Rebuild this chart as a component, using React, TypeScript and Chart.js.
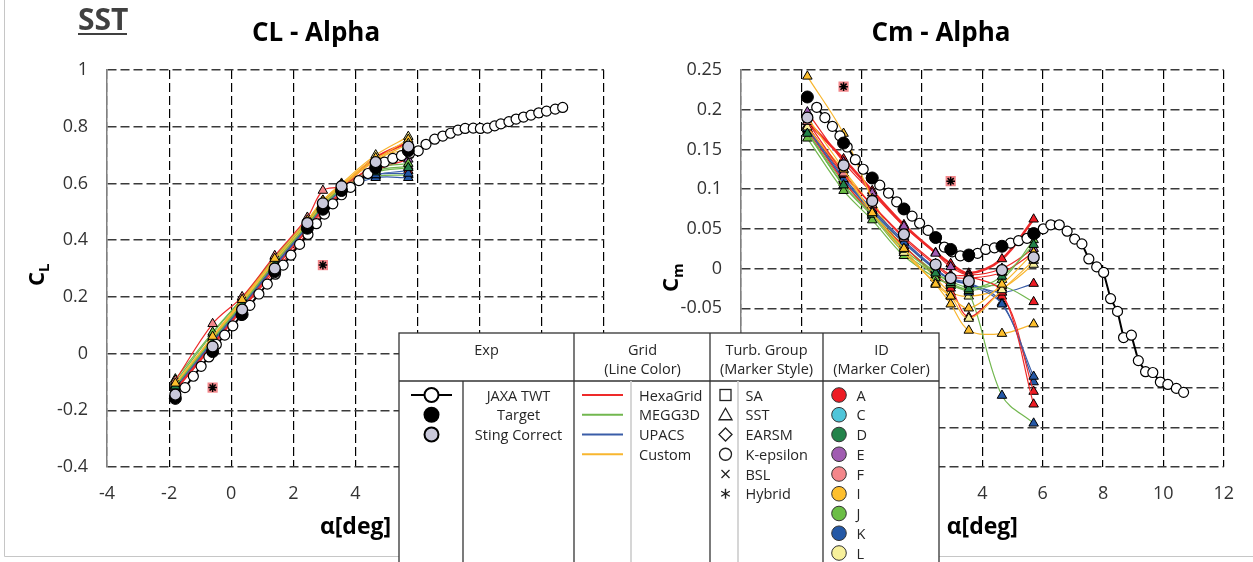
import React, { useEffect, useRef } from 'react';
import { Chart, registerables } from 'chart.js';

Chart.register(...registerables);

const FONT = '"Open Sans", "DejaVu Sans", sans-serif';

// ---------- axes ----------
const X_MIN = -4, X_MAX = 12, X_STEP = 2;
const CL_MIN = -0.4, CL_MAX = 1, CL_STEP = 0.2;
const CM_MIN = -0.25, CM_MAX = 0.25, CM_STEP = 0.05;

// ---------- experiment (JAXA TWT) ----------
const JAXA_ALPHA = [-1.49, -1.22, -0.97, -0.72, -0.48, -0.21, 0.05, 0.32, 0.6, 0.89, 1.16, 1.42, 1.67, 1.92, 2.2, 2.47, 2.74, 3.0, 3.27, 3.55, 3.84, 4.11, 4.4, 4.66, 4.93, 5.2, 5.48, 5.75, 6.02, 6.27, 6.55, 6.81, 7.06, 7.3, 7.53, 7.79, 8.02, 8.25, 8.48, 8.68, 8.94, 9.17, 9.41, 9.65, 9.9, 10.15, 10.43, 10.67];
const JAXA_CL = [-0.12, -0.08, -0.045, -0.012, 0.032, 0.065, 0.098, 0.135, 0.17, 0.21, 0.245, 0.28, 0.312, 0.347, 0.385, 0.42, 0.458, 0.492, 0.528, 0.56, 0.586, 0.61, 0.635, 0.655, 0.675, 0.688, 0.698, 0.707, 0.715, 0.738, 0.756, 0.767, 0.777, 0.788, 0.794, 0.795, 0.794, 0.795, 0.803, 0.81, 0.818, 0.827, 0.834, 0.841, 0.849, 0.855, 0.862, 0.868];
const JAXA_CM = [0.203, 0.19, 0.179, 0.167, 0.153, 0.137, 0.125, 0.114, 0.105, 0.095, 0.084, 0.075, 0.066, 0.057, 0.048, 0.039, 0.027, 0.021, 0.016, 0.015, 0.019, 0.024, 0.026, 0.028, 0.032, 0.035, 0.038, 0.044, 0.05, 0.055, 0.055, 0.047, 0.037, 0.031, 0.012, 0.002, -0.005, -0.038, -0.054, -0.087, -0.084, -0.116, -0.13, -0.131, -0.143, -0.146, -0.151, -0.156];

// ---------- CFD angles, target and sting-corrected ----------
const CFD_ALPHA = [-1.8, -0.6, 0.35, 1.4, 2.45, 2.95, 3.55, 4.65, 5.7];
const TARGET_CL = [-0.158, 0.007, 0.138, 0.289, 0.442, 0.509, 0.575, 0.655, 0.715];
const TARGET_CM = [0.216, 0.158, 0.114, 0.075, 0.039, 0.024, 0.017, 0.028, 0.044];
const STING_CL = [-0.145, 0.025, 0.155, 0.3, 0.46, 0.53, 0.59, 0.675, 0.73];
const STING_CM = [0.19, 0.13, 0.085, 0.043, 0.005, -0.012, -0.016, -0.002, 0.014];

// ---------- CFD SST results ----------
const CFD_ID = ['A', 'E', 'L', 'I', 'K', 'K', 'A', 'A', 'A', 'K', 'J', 'A', 'L', 'F', 'D', 'I'];
const CFD_GRID = ['HexaGrid', 'HexaGrid', 'Custom', 'Custom', 'MEGG3D', 'UPACS', 'UPACS', 'MEGG3D', 'HexaGrid', 'UPACS', 'MEGG3D', 'HexaGrid', 'Custom', 'HexaGrid', 'MEGG3D', 'Custom'];
const CFD_CL = [
  [-0.125, 0.035, 0.165, 0.31, 0.45, 0.52, 0.585, 0.69, 0.745],
  [-0.13, 0.025, 0.155, 0.29, 0.425, 0.495, 0.565, 0.645, 0.685],
  [-0.115, 0.06, 0.19, 0.335, 0.47, 0.54, 0.6, 0.7, 0.765],
  [-0.11, 0.055, 0.185, 0.33, 0.465, 0.535, 0.595, 0.685, 0.755],
  [-0.1, 0.07, 0.195, 0.335, 0.465, 0.53, 0.585, 0.625, 0.63],
  [-0.115, 0.045, 0.17, 0.31, 0.45, 0.515, 0.575, 0.62, 0.62],
  [-0.12, 0.04, 0.17, 0.31, 0.45, 0.515, 0.58, 0.63, 0.645],
  [-0.115, 0.05, 0.175, 0.32, 0.455, 0.525, 0.585, 0.645, 0.66],
  [-0.125, 0.035, 0.16, 0.3, 0.435, 0.505, 0.565, 0.66, 0.71],
  [-0.12, 0.04, 0.165, 0.305, 0.445, 0.51, 0.575, 0.63, 0.635],
  [-0.09, 0.075, 0.195, 0.34, 0.47, 0.535, 0.59, 0.655, 0.67],
  [-0.13, 0.03, 0.16, 0.3, 0.44, 0.51, 0.57, 0.67, 0.7],
  [-0.11, 0.055, 0.18, 0.325, 0.46, 0.53, 0.59, 0.68, 0.74],
  [-0.095, 0.105, 0.2, 0.345, 0.48, 0.575, 0.59, 0.665, 0.7],
  [-0.115, 0.05, 0.175, 0.32, 0.455, 0.52, 0.58, 0.64, 0.655],
  [-0.105, 0.06, 0.19, 0.335, 0.47, 0.54, 0.595, 0.69, 0.72],
];
const CFD_CM = [
  [0.185, 0.138, 0.098, 0.055, 0.02, 0.006, -0.006, 0.012, 0.062],
  [0.197, 0.134, 0.095, 0.053, 0.019, 0.002, -0.008, 0.0, 0.025],
  [0.176, 0.124, 0.078, 0.03, -0.012, -0.03, -0.035, -0.025, 0.005],
  [0.242, 0.17, 0.088, 0.022, -0.02, -0.045, -0.078, -0.082, -0.07],
  [0.172, 0.104, 0.066, 0.02, -0.008, -0.022, -0.03, -0.16, -0.195],
  [0.18, 0.115, 0.075, 0.035, 0.0, -0.013, -0.018, -0.043, -0.143],
  [0.178, 0.112, 0.072, 0.032, -0.002, -0.014, -0.02, -0.03, -0.019],
  [0.172, 0.108, 0.07, 0.028, -0.005, -0.016, -0.024, -0.022, -0.042],
  [0.175, 0.11, 0.068, 0.028, -0.008, -0.025, -0.061, -0.035, -0.155],
  [0.176, 0.113, 0.073, 0.033, -0.001, -0.014, -0.02, -0.045, -0.136],
  [0.164, 0.098, 0.061, 0.016, -0.012, -0.02, -0.028, -0.014, 0.036],
  [0.18, 0.118, 0.08, 0.04, 0.006, -0.008, -0.01, -0.03, -0.171],
  [0.178, 0.12, 0.07, 0.02, -0.018, -0.035, -0.063, -0.027, 0.01],
  [0.185, 0.12, 0.08, 0.038, 0.004, -0.01, -0.012, -0.005, 0.02],
  [0.17, 0.105, 0.068, 0.024, -0.006, -0.018, -0.026, -0.01, 0.03],
  [0.19, 0.125, 0.07, 0.025, -0.02, -0.035, -0.05, -0.02, 0.02],
];

// ---------- BSL / Hybrid (F) ----------
const BSL_ALPHA = [-0.6, 2.95];
const BSL_CL = [-0.12, 0.312];
const BSL_CM = [0.229, 0.11];

// ---------- legend labels ----------
const EXP_LABELS = ['JAXA TWT', 'Target', 'Sting Correct'];
const GRID_LABELS = ['HexaGrid', 'MEGG3D', 'UPACS', 'Custom'];
const TURB_LABELS = ['SA', 'SST', 'EARSM', 'K-epsilon', 'BSL', 'Hybrid'];
const ID_LABELS = ['A', 'C', 'D', 'E', 'F', 'I', 'J', 'K', 'L'];

const ID_COLORS: Record<string, string> = {
  A: '#ED1C24', C: '#4FC5D9', D: '#23834A', E: '#A05CB1', F: '#F3868A',
  I: '#FDBF2D', J: '#6BBE45', K: '#2458A6', L: '#F7F09B',
};
const GRID_COLORS: Record<string, string> = {
  HexaGrid: '#EE2A2A', MEGG3D: '#72B74F', UPACS: '#3A5DA8', Custom: '#F8B62F',
};

const fmt = (v: any) => String(parseFloat(Number(v).toFixed(2)));

const yTitlePlugin = {
  id: 'ytitle',
  afterDraw(chart: any, _args: any, opts: any) {
    const ctx = chart.ctx;
    ctx.save();
    ctx.translate(opts.x, opts.y);
    ctx.rotate(-Math.PI / 2);
    ctx.fillStyle = '#000';
    ctx.textBaseline = 'alphabetic';
    ctx.textAlign = 'left';
    ctx.font = `bold 22px ${FONT}`;
    ctx.fillText(opts.main, 0, 0);
    const w = ctx.measureText(opts.main).width;
    ctx.font = `bold 15px ${FONT}`;
    ctx.fillText(opts.sub, w, 5);
    ctx.restore();
  },
};

function buildConfig(kind: 'cl' | 'cm'): any {
  const isCL = kind === 'cl';
  const pts = (xs: number[], ys: number[]) => xs.map((x, i) => ({ x, y: ys[i] }));
  const layers: any[] = [];
  CFD_ID.forEach((id, i) => {
    layers.push({
      data: pts(CFD_ALPHA, isCL ? CFD_CL[i] : CFD_CM[i]),
      borderColor: GRID_COLORS[CFD_GRID[i]],
      borderWidth: i === 0 ? 2.6 : 1.2,
      tension: 0.35,
      pointStyle: 'triangle',
      pointRadius: 5.5,
      pointBackgroundColor: ID_COLORS[id],
      pointBorderColor: '#000',
      pointBorderWidth: 1,
    });
  });
  layers.push({
    data: pts(JAXA_ALPHA, isCL ? JAXA_CL : JAXA_CM),
    borderColor: '#000',
    borderWidth: 2,
    tension: 0,
    pointStyle: 'circle',
    pointRadius: 5,
    pointBackgroundColor: '#fff',
    pointBorderColor: '#000',
    pointBorderWidth: 1.2,
  });
  layers.push({
    data: pts(CFD_ALPHA, isCL ? TARGET_CL : TARGET_CM),
    showLine: false,
    pointStyle: 'circle',
    pointRadius: 6,
    pointBackgroundColor: '#000',
    pointBorderColor: '#000',
    pointBorderWidth: 1,
  });
  layers.push({
    data: pts(CFD_ALPHA, isCL ? STING_CL : STING_CM),
    showLine: false,
    pointStyle: 'circle',
    pointRadius: 5.5,
    pointBackgroundColor: '#C9C8DA',
    pointBorderColor: '#000',
    pointBorderWidth: 1.3,
  });
  layers.push({
    data: pts(BSL_ALPHA, isCL ? BSL_CL : BSL_CM),
    showLine: false,
    pointStyle: 'rect',
    pointRadius: 7.2,
    pointBackgroundColor: ID_COLORS.F,
    pointBorderColor: ID_COLORS.F,
    pointBorderWidth: 0,
  });
  layers.push({
    data: pts(BSL_ALPHA, isCL ? BSL_CL : BSL_CM),
    showLine: false,
    pointStyle: 'star',
    pointRadius: 4.3,
    pointBackgroundColor: '#000',
    pointBorderColor: '#000',
    pointBorderWidth: 1.5,
  });
  // Chart.js draws dataset 0 on top, so reverse the bottom->top list
  const datasets = layers.reverse();

  const padL = isCL ? 28 : 21;
  const padR = isCL ? 28 : 21;
  const yWidth = isCL ? 79 : 88;
  const tickFont = { family: FONT, size: 18 };

  return {
    type: 'line',
    data: { datasets },
    plugins: [yTitlePlugin],
    options: {
      responsive: false,
      animation: false,
      events: [],
      layout: { padding: { left: padL, right: padR, top: 0, bottom: 0 } },
      plugins: {
        legend: { display: false },
        tooltip: { enabled: false },
        title: {
          display: true,
          text: isCL ? 'CL - Alpha' : 'Cm - Alpha',
          color: '#000',
          font: { family: FONT, size: 26, weight: 'bold' },
          padding: { top: 17.5, bottom: 70 - 17.5 - 31.2 },
        },
        ytitle: isCL ? { x: 44, y: 286, main: 'C', sub: 'L' } : { x: 46, y: 292, main: 'C', sub: 'm' },
      },
      scales: {
        x: {
          type: 'linear',
          min: X_MIN,
          max: X_MAX,
          ticks: { stepSize: X_STEP, font: tickFont, color: '#333', padding: 16, callback: fmt },
          grid: { color: '#000', lineWidth: 1.2, drawTicks: false },
          border: { display: false, dash: [9, 4] },
          title: {
            display: true,
            text: 'α[deg]',
            color: '#000',
            font: { family: FONT, size: 23, weight: 'bold' },
            padding: { top: 0, bottom: 21.2 },
          },
          afterFit: (s: any) => { s.height = 95; },
        },
        y: {
          type: 'linear',
          min: isCL ? CL_MIN : CM_MIN,
          max: isCL ? CL_MAX : CM_MAX,
          ticks: { stepSize: isCL ? CL_STEP : CM_STEP, font: tickFont, color: '#333', padding: 19, callback: fmt },
          grid: { color: '#3a3a3a', lineWidth: 1.4, drawTicks: false },
          border: { display: true, color: '#808080', width: 1.5, dash: [9, 4] },
          afterFit: (s: any) => { s.width = yWidth; },
        },
      },
    },
  };
}

const ROW0 = 395;
const ROW_STEP = 19.75;

function Legend() {
  const txt = { fontFamily: FONT, fontSize: 14.5, fill: '#262626' } as any;
  const rowY = (i: number) => ROW0 + i * ROW_STEP;
  const sx = 725.5;
  return (
    <svg width={1253} height={562} style={{ position: 'absolute', left: 0, top: 0 }}>
      {/* outer frame */}
      <line x1={4.5} y1={0} x2={4.5} y2={556.5} stroke="#c6c6c6" strokeWidth={1} />
      <line x1={4.5} y1={556.5} x2={1253} y2={556.5} stroke="#c6c6c6" strokeWidth={1} />
      {/* SST */}
      <text x={78} y={30} style={{ fontFamily: FONT, fontSize: 30, fontWeight: 700, fill: '#404040' } as any}>SST</text>
      <line x1={78} y1={34} x2={127} y2={34} stroke="#404040" strokeWidth={2.2} />
      {/* table */}
      <rect x={399} y={333} width={540} height={260} fill="#fff" stroke="#333" strokeWidth={1.3} />
      <line x1={399} y1={381} x2={939} y2={381} stroke="#333" strokeWidth={1.3} />
      {[574, 710, 823].map((x) => (
        <line key={x} x1={x} y1={333} x2={x} y2={562} stroke="#333" strokeWidth={1.3} />
      ))}
      <line x1={463} y1={381} x2={463} y2={562} stroke="#333" strokeWidth={1.3} />
      {[631, 738].map((x) => (
        <line key={x} x1={x} y1={381} x2={x} y2={562} stroke="#d2d2d2" strokeWidth={1.8} />
      ))}
      {/* headers */}
      <text x={486.5} y={349} textAnchor="middle" dominantBaseline="central" style={txt}>Exp</text>
      <text x={642.5} y={349} textAnchor="middle" dominantBaseline="central" style={txt}>Grid</text>
      <text x={642.5} y={368} textAnchor="middle" dominantBaseline="central" style={txt}>(Line Color)</text>
      <text x={766.5} y={349} textAnchor="middle" dominantBaseline="central" style={txt}>Turb. Group</text>
      <text x={766.5} y={368} textAnchor="middle" dominantBaseline="central" style={txt}>(Marker Style)</text>
      <text x={881.5} y={349} textAnchor="middle" dominantBaseline="central" style={txt}>ID</text>
      <text x={881.5} y={368} textAnchor="middle" dominantBaseline="central" style={txt}>(Marker Coler)</text>
      {/* Exp */}
      <line x1={411} y1={rowY(0)} x2={452} y2={rowY(0)} stroke="#000" strokeWidth={1.8} />
      <circle cx={431.5} cy={rowY(0)} r={7} fill="#fff" stroke="#000" strokeWidth={2} />
      <circle cx={431.5} cy={rowY(1)} r={8} fill="#000" />
      <circle cx={431.5} cy={rowY(2)} r={7} fill="#C9C8DA" stroke="#000" strokeWidth={2} />
      {EXP_LABELS.map((l, i) => (
        <text key={l} x={518.5} y={rowY(i)} textAnchor="middle" dominantBaseline="central" style={txt}>{l}</text>
      ))}
      {/* Grid */}
      {GRID_LABELS.map((l, i) => (
        <g key={l}>
          <line x1={582} y1={rowY(i)} x2={623} y2={rowY(i)} stroke={GRID_COLORS[l]} strokeWidth={2} />
          <text x={639} y={rowY(i)} dominantBaseline="central" style={txt}>{l}</text>
        </g>
      ))}
      {/* Turb */}
      <rect x={sx - 5.5} y={rowY(0) - 5.5} width={11} height={11} fill="none" stroke="#222" strokeWidth={1.3} />
      <polygon points={`${sx},${rowY(1) - 6.5} ${sx + 6.5},${rowY(1) + 5} ${sx - 6.5},${rowY(1) + 5}`} fill="none" stroke="#222" strokeWidth={1.3} />
      <polygon points={`${sx},${rowY(2) - 6.5} ${sx + 6.5},${rowY(2)} ${sx},${rowY(2) + 6.5} ${sx - 6.5},${rowY(2)}`} fill="none" stroke="#222" strokeWidth={1.3} />
      <circle cx={sx} cy={rowY(3)} r={6} fill="none" stroke="#222" strokeWidth={1.3} />
      <path d={`M${sx - 4},${rowY(4) - 4} L${sx + 4},${rowY(4) + 4} M${sx + 4},${rowY(4) - 4} L${sx - 4},${rowY(4) + 4}`} stroke="#222" strokeWidth={1.3} />
      <path d={`M${sx},${rowY(5) - 5} L${sx},${rowY(5) + 5} M${sx - 4.3},${rowY(5) - 2.5} L${sx + 4.3},${rowY(5) + 2.5} M${sx + 4.3},${rowY(5) - 2.5} L${sx - 4.3},${rowY(5) + 2.5}`} stroke="#222" strokeWidth={1.4} />
      {TURB_LABELS.map((l, i) => (
        <text key={l} x={745.5} y={rowY(i)} dominantBaseline="central" style={txt}>{l}</text>
      ))}
      {/* ID */}
      {ID_LABELS.map((l, i) => (
        <g key={l}>
          <circle cx={839} cy={rowY(i)} r={7.3} fill={ID_COLORS[l]} stroke="#333" strokeWidth={1} />
          <text x={856.5} y={rowY(i)} dominantBaseline="central" style={txt}>{l}</text>
        </g>
      ))}
    </svg>
  );
}

export default function App() {
  const leftRef = useRef<HTMLCanvasElement>(null);
  const rightRef = useRef<HTMLCanvasElement>(null);
  useEffect(() => {
    const c1 = new Chart(leftRef.current as HTMLCanvasElement, buildConfig('cl'));
    const c2 = new Chart(rightRef.current as HTMLCanvasElement, buildConfig('cm'));
    return () => {
      c1.destroy();
      c2.destroy();
    };
  }, []);
  return (
    <div style={{ position: 'absolute', left: 0, top: 0, width: 1253, height: 562, background: '#fff', overflow: 'hidden' }}>
      <canvas ref={leftRef} width={632} height={562} style={{ position: 'absolute', left: 0, top: 0, width: 632, height: 562 }} />
      <canvas ref={rightRef} width={618} height={562} style={{ position: 'absolute', left: 632, top: 0, width: 618, height: 562 }} />
      <Legend />
    </div>
  );
}
